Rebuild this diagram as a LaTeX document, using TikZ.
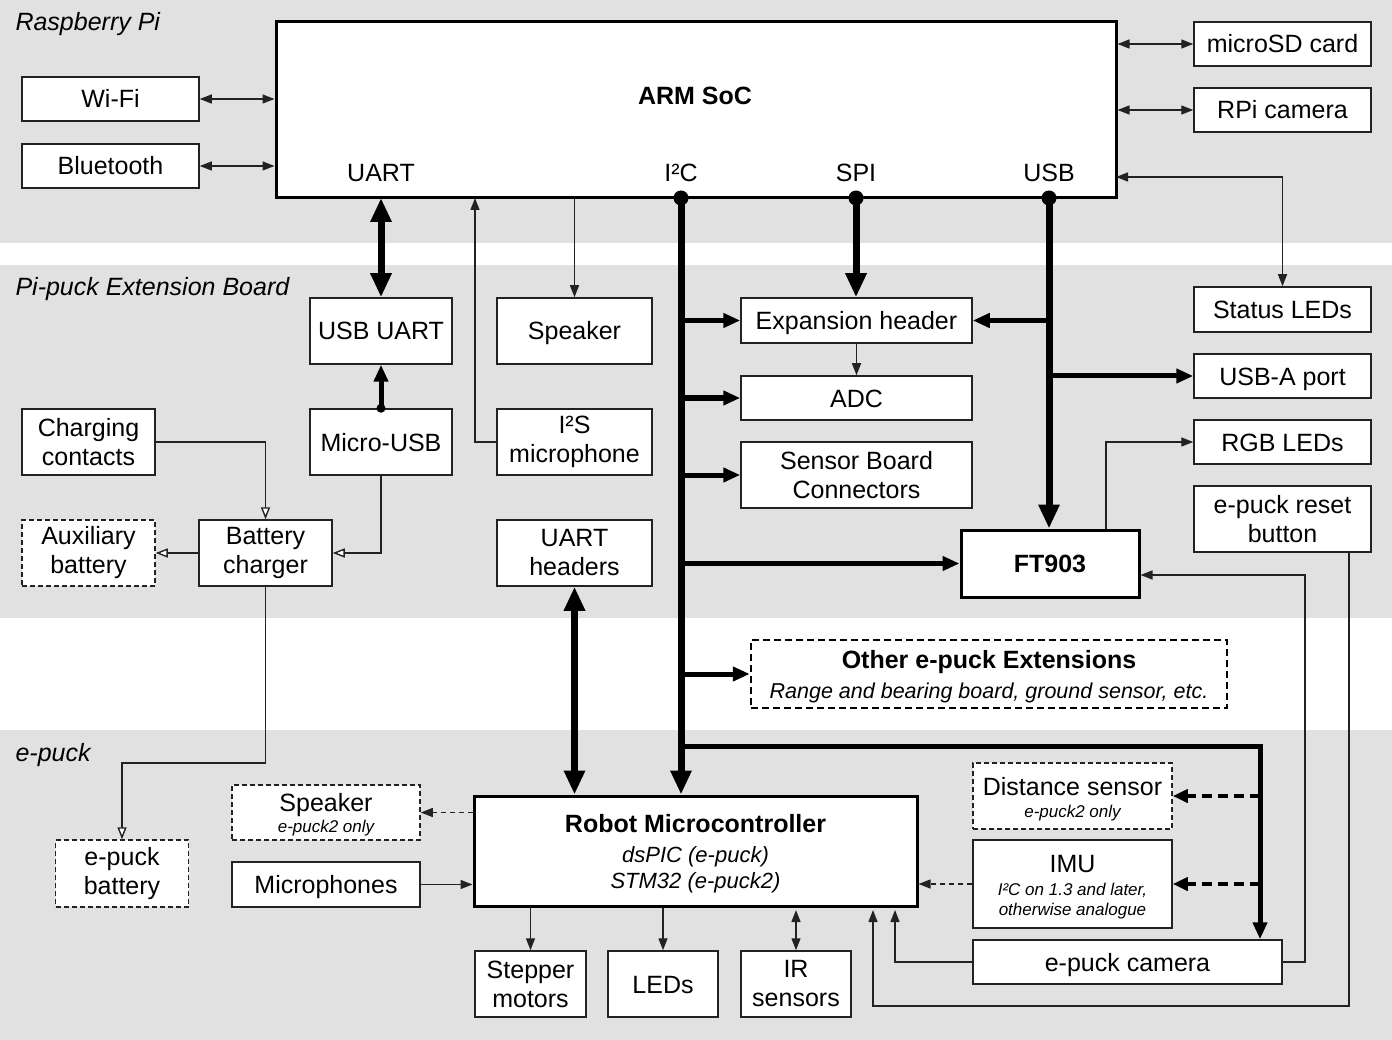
\documentclass[tikz,border=0pt]{standalone}
\usepackage{fontspec}
\setmainfont{Liberation Sans}
\usetikzlibrary{arrows.meta}
\definecolor{band}{HTML}{E1E1E1}
\definecolor{ln}{HTML}{222222}
\newcommand\fmain{\fontsize{25}{29}\selectfont}
\newcommand\fsub{\fontsize{22}{26}\selectfont}
\newcommand\fsmall{\fontsize{17}{20}\selectfont}
\newcommand\frange{\fontsize{21.5}{25}\selectfont}
\begin{document}
\begin{tikzpicture}[x=1pt,y=-1pt,font=\fmain,
  box/.style={draw=ln, line width=1.5pt, fill=white, inner sep=0pt, align=center},
  one/.style={text height=18pt, text depth=0pt},
  thickbox/.style={box, draw=black, line width=3pt},
  dbox/.style={box, dash pattern=on 5pt off 3pt},
  sz/.style 2 args={minimum width=#1pt, minimum height=#2pt},
  thinl/.style={draw=ln, line width=1.4pt, >={Triangle[length=12pt,width=9pt]}},
  openl/.style={draw=ln, line width=1.4pt, -{Triangle[open,length=12pt,width=9pt,fill=white]}},
  bus/.style={draw=black, line width=7pt, >={Triangle[length=24pt,width=20pt]}},
  branch/.style={draw=black, line width=5pt, >={Triangle[length=17pt,width=14pt]}},
  dthick/.style={draw=black, line width=4pt, dash pattern=on 10pt off 6pt, >={Triangle[length=15pt,width=13pt]}},
  dthin/.style={thinl, dash pattern=on 5pt off 4pt},
  sect/.style={anchor=base west, font=\fmain\itshape},
  txt/.style={anchor=base, inner sep=0pt}
]
\useasboundingbox (0,0) rectangle (1392,1040);
\fill[band] (0,0) rectangle (1392,243);
\fill[band] (0,265) rectangle (1392,618);
\fill[band] (0,730) rectangle (1392,1040);

\node[sect] (lrpi) at (12,31) {Raspberry Pi};
\node[sect] (lpp) at (12,296) {Pi-puck Extension Board};
\node[sect] (lep) at (12,761) {e-puck};

% Raspberry Pi
\node[thickbox, sz={840}{176}] (arm) at (696,110) {};
\node[txt, font=\fmain\bfseries] (armt) at (695,105) {ARM SoC};
\node[txt] (luart) at (381,182) {UART};
\node[txt] (li2c) at (681,182) {I²C};
\node[txt] (lspi) at (856,182) {SPI};
\node[txt] (lusb) at (1049,182) {USB};
\node[box, one, sz={177}{44}] (wifi) at (110.5,99) {Wi-Fi};
\node[box, one, sz={177}{44}] (bt) at (110.5,166) {Bluetooth};
\node[box, one, sz={177}{44}] (sd) at (1282.5,44) {microSD card};
\node[box, one, sz={177}{44}] (rpicam) at (1282.5,110) {RPi camera};

% Pi-puck
\node[box, one, sz={177}{45}] (status) at (1282.5,309.5) {Status LEDs};
\node[box, one, sz={177}{44}] (usba) at (1282.5,376) {USB-A port};
\node[box, one, sz={177}{44}] (rgb) at (1282.5,442) {RGB LEDs};
\node[box, sz={177}{66}] (reset) at (1282.5,519) {e-puck reset\\button};
\node[thickbox, one, sz={178}{67}, font=\fmain\bfseries] (ft) at (1050,563.5) {FT903};
\node[box, one, sz={231}{45}] (exp) at (856.5,320.5) {Expansion header};
\node[box, one, sz={231}{44}] (adc) at (856.5,398) {ADC};
\node[box, sz={231}{66}] (sbc) at (856.5,475) {Sensor Board\\Connectors};
\node[box, one, sz={155}{66}] (spk) at (574.5,331) {Speaker};
\node[box, sz={155}{66}] (i2s) at (574.5,442) {I²S\\microphone};
\node[box, sz={155}{66}] (uarth) at (574.5,553) {UART\\headers};
\node[box, one, sz={142}{66}] (usbuart) at (381,331) {USB UART};
\node[box, one, sz={142}{66}] (microusb) at (381,442) {Micro-USB};
\node[box, sz={133}{66}] (charging) at (88.5,442) {Charging\\contacts};
\node[box, sz={133}{66}] (charger) at (265.5,553) {Battery\\charger};
\node[dbox, sz={133}{66}] (aux) at (88.5,553) {Auxiliary\\battery};

% Other extensions
\node[box, sz={476}{68}, draw=black, line width=2.5pt, dash pattern=on 7pt off 4pt] (other) at (989,674) {};
\node[txt, font=\fmain\bfseries] (othert) at (989,668) {Other e-puck Extensions};
\node[txt, font=\frange\itshape] (otherr) at (989,698) {Range and bearing board, ground sensor, etc.};

% e-puck
\node[thickbox, sz={443}{110}] (mc) at (695.5,851) {};
\node[txt, font=\fmain\bfseries] (mct) at (695.5,832) {Robot Microcontroller};
\node[txt, font=\fsub\itshape] (mcd) at (695.5,862) {dsPIC (e-puck)};
\node[txt, font=\fsub\itshape] (mcs) at (695.5,888) {STM32 (e-puck2)};
\node[dbox, sz={188}{55}] (espk) at (326,812.5) {};
\node[txt] (espkt) at (326,811) {Speaker};
\node[txt, font=\fsmall\itshape] (espks) at (326,832) {e-puck2 only};
\node[box, one, sz={188}{45}] (mics) at (326,884.5) {Microphones};
\node[dbox, sz={133}{67}] (ebat) at (122,873.5) {e-puck\\battery};
\node[box, sz={111}{66}] (stepper) at (530.5,984) {Stepper\\motors};
\node[box, one, sz={110}{66}] (leds) at (663,984) {LEDs};
\node[box, sz={110}{66}] (ir) at (796,984) {IR\\sensors};
\node[dbox, sz={199}{66}] (dist) at (1072.5,796) {};
\node[txt] (distt) at (1072.5,795) {Distance sensor};
\node[txt, font=\fsmall\itshape] (dists) at (1072.5,817) {e-puck2 only};
\node[box, sz={199}{88}] (imu) at (1072.5,884) {};
\node[txt] (imut) at (1072.5,872) {IMU};
\node[txt, font=\fsmall\itshape] (imus1) at (1072.5,895) {I²C on 1.3 and later,};
\node[txt, font=\fsmall\itshape] (imus2) at (1072.5,915) {otherwise analogue};
\node[box, one, sz={309}{44}] (cam) at (1127.5,962) {e-puck camera};

% coordinates
\coordinate (uartp) at (381,198);
\coordinate (i2cp) at (681,198);
\coordinate (spip) at (856,198);
\coordinate (usbp) at (1049,198);
\coordinate (i2sp) at (475,198);
\coordinate (usbr) at (1116,177);
\coordinate (i2cc) at (681,746);
\coordinate (camj) at (1260,746);
\coordinate (chj) at (122,763);
\coordinate (rgbj) at (1106,442);
\coordinate (ftj) at (1305,575);
\coordinate (resj) at (1349,1006);
\coordinate (mcb1) at (873,910);
\coordinate (mcb2) at (895,910);
\coordinate (irT) at (796,910);

% connectors RPi
\draw[thinl,<->] (wifi) -- (wifi -| arm.west);
\draw[thinl,<->] (bt) -- (bt -| arm.west);
\draw[thinl,<->] (sd) -- (sd -| arm.east);
\draw[thinl,<->] (rpicam) -- (rpicam -| arm.east);
\draw[thinl,<->] (usbr) -| (status);

% Pi-puck
\draw[bus,<->] (uartp) -- (uartp |- usbuart.north);
\draw[branch,->] (microusb.north) -- (usbuart.south);
\draw[thinl,->] (spk.north |- arm.south) -- (spk);
\draw[thinl,->] (i2s) -| (i2sp);
\draw[bus,->] (spip) -- (spip |- exp.north);
\draw[thinl,->] (exp) -- (adc);
\draw[bus,->] (i2cp) -- (i2cp |- mc.north);
\draw[branch,->] (i2cp |- exp) -- (exp);
\draw[branch,->] (i2cp |- adc) -- (adc);
\draw[branch,->] (i2cp |- sbc) -- (sbc);
\draw[branch,->] (i2cp |- ft) -- (ft);
\draw[branch,->] (i2cp |- other) -- (other);
\draw[branch,->] (i2cc) -- (camj) -- (camj |- cam.north);
\draw[dthick,->] (camj |- dist) -- (dist);
\draw[dthick,->] (camj |- imu) -- (imu);
\draw[bus,->] (usbp) -- (usbp |- ft.north);
\draw[branch,->] (usbp |- exp) -- (exp);
\draw[branch,->] (usbp |- usba) -- (usba);
\draw[thinl,->] (rgbj |- ft.north) -- (rgbj) -- (rgb);
\draw[thinl,->] (cam) -| (ftj) -- (ftj -| ft.east);
\draw[thinl,->] (reset.south -| resj) -- (resj) -| (mcb1);
\draw[thinl,->] (cam) -| (mcb2);
\draw[openl] (charging) -| (charger);
\draw[openl] (microusb) |- (charger);
\draw[openl] (charger) -- (aux);
\draw[openl] (charger) |- (chj) -- (ebat);

% e-puck
\draw[bus,<->] (uarth) -- (uarth |- mc.north);
\draw[dthin,->] (espk -| mc.west) -- (espk);
\draw[thinl,->] (mics) -- (mics -| mc.west);
\draw[thinl,->] (stepper |- mc.south) -- (stepper);
\draw[thinl,->] (leds |- mc.south) -- (leds);
\draw[thinl,<->] (irT) -- (ir);
\draw[dthin,->] (imu) -- (imu -| mc.east);

% dots
\fill (i2cp) circle[radius=7.5];
\fill (spip) circle[radius=7.5];
\fill (usbp) circle[radius=7.5];
\fill (microusb.north) circle[radius=4.5];
\end{tikzpicture}
\end{document}
